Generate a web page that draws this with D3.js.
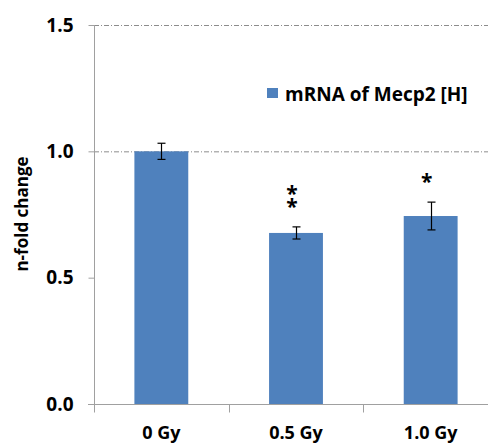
<!DOCTYPE html>
<html>
<head>
<meta charset="utf-8">
<script src="https://cdn.jsdelivr.net/npm/d3@7"></script>
<style>
  body { margin: 0; background: #fff; }
  svg text { font-family: "Open Sans", "DejaVu Sans", sans-serif; font-weight: bold; fill: #000; }
</style>
</head>
<body>
<svg id="chart" width="488" height="444"></svg>
<script>
const categories = ['0 Gy', '0.5 Gy', '1.0 Gy'];
const values = [1.0, 0.677, 0.744];
const errors = [0.032, 0.024, 0.055];
const stars = ['', '*\n*', '*'];
const yTicks = [0, 0.5, 1.0, 1.5];
const gridTicks = [1.0, 1.5];
const seriesName = 'mRNA of Mecp2 [H]';

const svg = d3.select('#chart');
const plotLeft = 94, plotRight = 498, plotTop = 25, plotBottom = 404;

const x = d3.scaleBand()
  .domain(categories)
  .range([plotLeft, plotRight])
  .paddingInner(0.6)
  .paddingOuter(0.3);

const y = d3.scaleLinear()
  .domain([0, 1.5])
  .range([plotBottom, plotTop]);

// gridlines
svg.append('g')
  .selectAll('line')
  .data(gridTicks)
  .enter()
  .append('line')
  .attr('x1', plotLeft)
  .attr('x2', 488)
  .attr('y1', d => y(d) + 0.5)
  .attr('y2', d => y(d) + 0.5)
  .attr('stroke', '#8c8c8c')
  .attr('stroke-dasharray', '5,2,1,2');

// bars
svg.append('g')
  .selectAll('rect')
  .data(values)
  .enter()
  .append('rect')
  .attr('x', (d, i) => x(categories[i]))
  .attr('y', d => y(d))
  .attr('width', x.bandwidth())
  .attr('height', d => plotBottom - y(d))
  .attr('fill', '#4f81bd');

// error bars
const eb = svg.append('g').attr('stroke', '#000').attr('stroke-width', 1.2);
values.forEach(function(v, i) {
  const cx = Math.round(x(categories[i]) + x.bandwidth() / 2) + 0.5;
  const hi = y(v + errors[i]), lo = y(v - errors[i]);
  eb.append('line').attr('x1', cx).attr('x2', cx).attr('y1', hi).attr('y2', lo);
  eb.append('line').attr('x1', cx - 4).attr('x2', cx + 4).attr('y1', hi).attr('y2', hi);
  eb.append('line').attr('x1', cx - 4).attr('x2', cx + 4).attr('y1', lo).attr('y2', lo);
});

// significance stars (stacked lines in one text)
values.forEach(function(v, i) {
  if (!stars[i]) return;
  const lines = stars[i].split('\n');
  const cx = x(categories[i]) + x.bandwidth() / 2 - 4;
  const base = y(v + errors[i]) - 13;
  const t = svg.append('text')
    .attr('text-anchor', 'middle')
    .style('font-size', '21px');
  lines.forEach(function(s, j) {
    t.append('tspan')
      .attr('x', cx)
      .attr('y', base - (lines.length - 1 - j) * 13)
      .text(s);
  });
});

// y axis
const yAxis = svg.append('g')
  .attr('transform', `translate(${plotLeft + 0.5},0)`)
  .call(d3.axisLeft(y).tickValues(yTicks).tickFormat(d3.format('.1f')).tickSize(6).tickPadding(15));
yAxis.select('.domain').attr('d', `M0,${plotTop}V${plotBottom + 8}`).attr('stroke', '#a0a0a0');
yAxis.selectAll('.tick line').attr('stroke', '#a0a0a0');
yAxis.selectAll('text').style('font-size', '19px');

// x axis
const xAxis = svg.append('g')
  .attr('transform', `translate(0,${plotBottom + 0.5})`)
  .call(d3.axisBottom(x).tickSize(0).tickPadding(22));
xAxis.select('.domain').attr('d', `M${plotLeft - 6},0H${plotRight}`).attr('stroke', '#a0a0a0');
xAxis.selectAll('text').style('font-size', '18px');
xAxis.append('g')
  .selectAll('line')
  .data(categories)
  .enter()
  .append('line')
  .attr('x1', d => Math.round(x(d) - x.step() * x.paddingInner() / 2) + 0.5)
  .attr('x2', d => Math.round(x(d) - x.step() * x.paddingInner() / 2) + 0.5)
  .attr('y1', 0)
  .attr('y2', 8)
  .attr('stroke', '#a0a0a0');

// axis title
svg.append('text')
  .attr('transform', 'translate(28,214) rotate(-90)')
  .attr('text-anchor', 'middle')
  .style('font-size', '17px')
  .text('n-fold change');

// legend
const legend = svg.append('g').attr('transform', 'translate(267,88)');
legend.append('rect').attr('width', 11).attr('height', 10).attr('fill', '#4f81bd');
legend.append('text').attr('x', 18).attr('y', 13).style('font-size', '19px').text(seriesName);
</script>
</body>
</html>
